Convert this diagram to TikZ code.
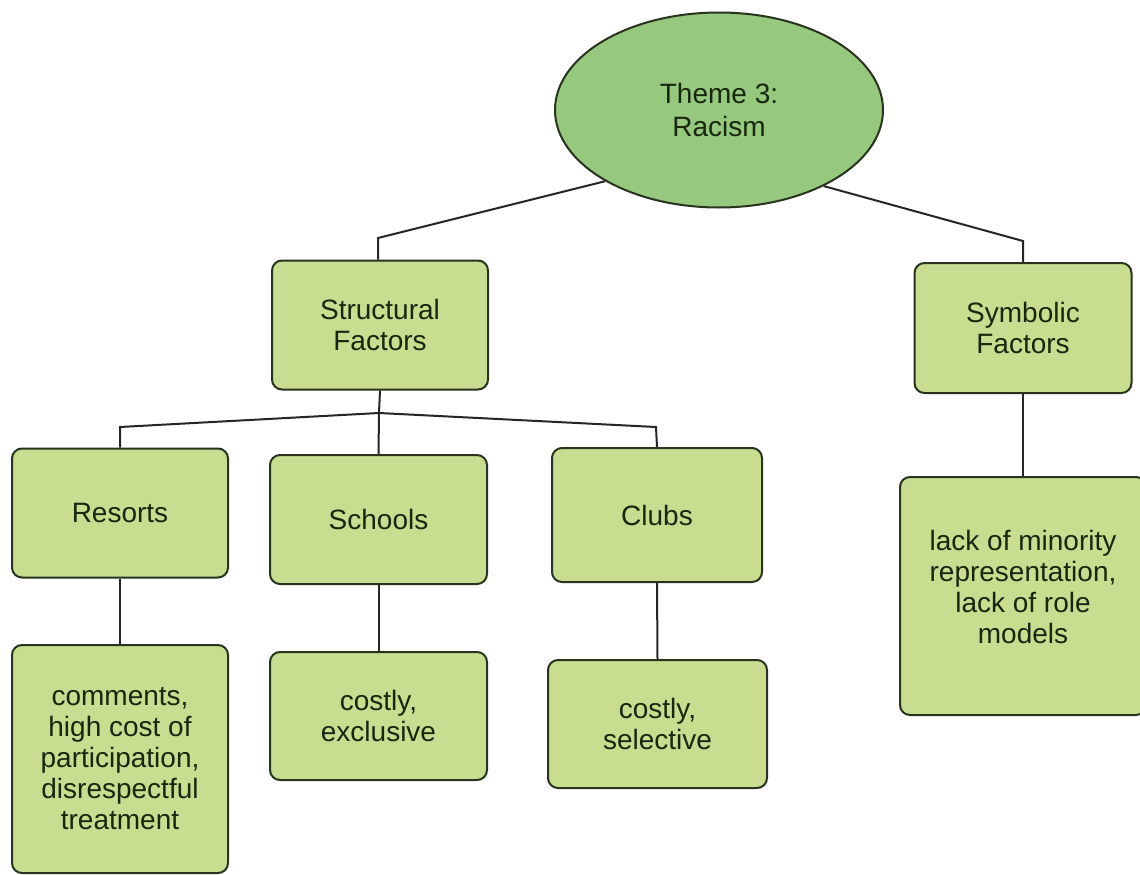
\documentclass[tikz,border=0pt]{standalone}
\usepackage{fontspec}
\setmainfont{Liberation Sans}
\usetikzlibrary{shapes.geometric}
\definecolor{ellfill}{RGB}{150,200,125}
\definecolor{boxfill}{RGB}{200,221,143}
\definecolor{edgecol}{RGB}{40,52,30}
\definecolor{txtcol}{RGB}{24,40,14}
\tikzset{
  base/.style={draw=edgecol, line width=2pt, text=txtcol, align=center, inner sep=0pt,
    font=\fontsize{28}{31}\selectfont},
  theme/.style={base, ellipse, fill=ellfill},
  catbox/.style={base, rounded corners=10pt, fill=boxfill, rectangle},
  conn/.style={draw=black!85, line width=2pt}
}
\begin{document}
\begin{tikzpicture}[x=1pt,y=-1pt]
\useasboundingbox (0,0) rectangle (1140,875);
\fill[white] (0,0) rectangle (1140,875);

\node[theme, minimum width=328pt, minimum height=195pt, font=\fontsize{28}{33}\selectfont] (th) at (719,110) {Theme 3:\\Racism};

\node[catbox, minimum width=216pt, minimum height=129pt] (sf) at (380,325) {Structural\\Factors};
\node[catbox, minimum width=217pt, minimum height=130pt] (sym) at (1023,328) {Symbolic\\Factors};

\node[catbox, minimum width=216pt, minimum height=129pt] (res) at (120,513) {Resorts};
\node[catbox, minimum width=217pt, minimum height=129pt] (sch) at (378.5,519.5) {Schools};
\node[catbox, minimum width=210pt, minimum height=134pt] (clu) at (657,515) {Clubs};

\node[catbox, minimum width=216pt, minimum height=228pt] (resd) at (120,759) {comments,\\high cost of\\participation,\\disrespectful\\treatment};
\node[catbox, minimum width=217pt, minimum height=128pt] (schd) at (378.5,716) {costly,\\exclusive};
\node[catbox, minimum width=219pt, minimum height=128pt] (clud) at (657.5,724) {costly,\\selective};
\node[catbox, minimum width=246pt, minimum height=238pt] (symd) at (1023,596) {};
\node[text=txtcol, align=center, inner sep=0pt, font=\fontsize{28}{31}\selectfont] (symdt) at (1023,587) {lack of minority\\representation,\\lack of role\\models};

\coordinate (cl) at (378,238);
\coordinate (cr) at (1023,241);
\coordinate (j) at (379,413);
\coordinate (jl) at (120,427);
\coordinate (jr) at (656,427);

\draw[conn] (th.212) -- (cl) -- (cl |- sf.north);
\draw[conn] (th.324) -- (cr) -- (sym.north);
\draw[conn] (sf.south) -- (j);
\draw[conn] (res.north) -- (jl) -- (j) -- (jr) -- (clu.north);
\draw[conn] (j) -- (sch.north);
\draw[conn] (res.south) -- (resd.north);
\draw[conn] (sch.south) -- (schd.north);
\draw[conn] (clu.south) -- (clud.north);
\draw[conn] (sym.south) -- (symd.north);
\end{tikzpicture}
\end{document}
